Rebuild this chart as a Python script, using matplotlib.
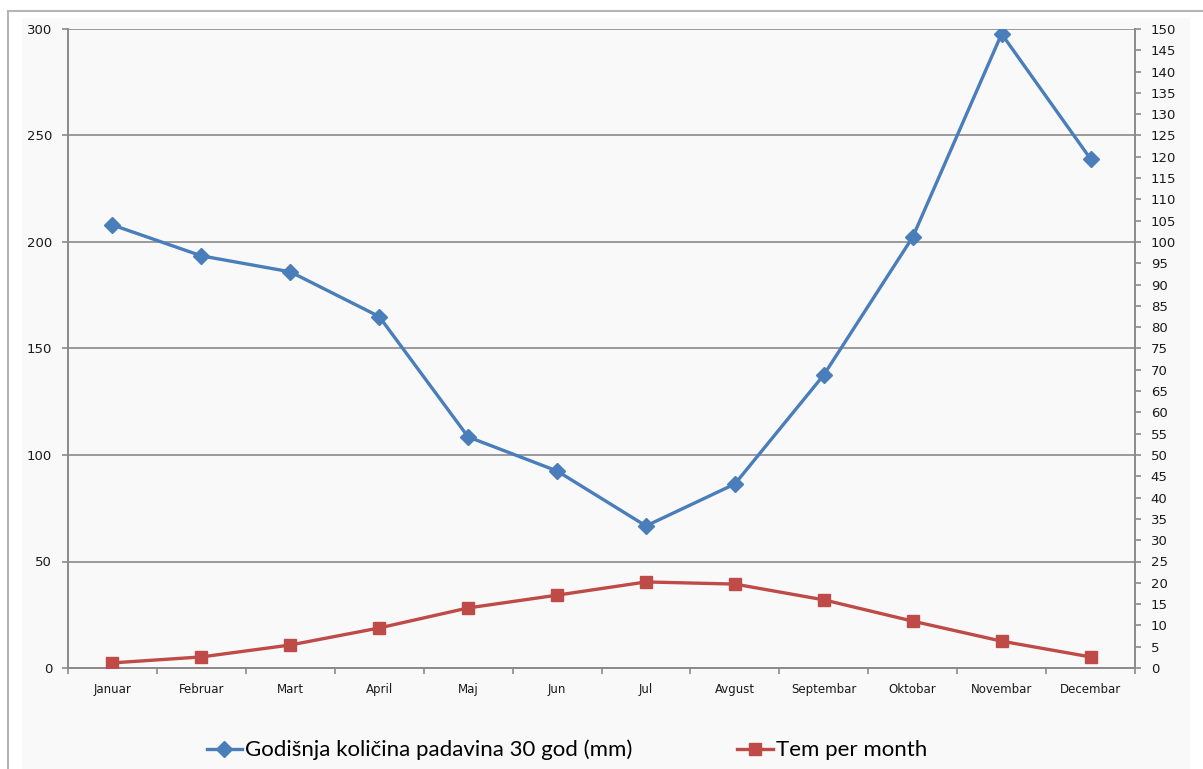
import matplotlib
matplotlib.use("Agg")

import matplotlib.pyplot as plt
from matplotlib.patches import Rectangle
import numpy as np

months = ["Januar", "Februar", "Mart", "April", "Maj", "Jun", "Jul",
          "Avgust", "Septembar", "Oktobar", "Novembar", "Decembar"]
padavine = [208.0, 193.5, 186.0, 165.0, 108.5, 92.5, 66.7, 86.4,
            137.6, 202.3, 297.7, 239.0]
temperatura = [1.2, 2.6, 5.4, 9.4, 14.1, 17.1, 20.2, 19.7, 16.0, 11.0, 6.3, 2.6]

left_ticks = np.arange(0, 301, 50)
right_ticks = np.arange(0, 151, 5)

BLUE = "#4a7ebb"
RED = "#be4b48"
GRID = "#8a8a8a"

W, H = 1203, 769
fig = plt.figure(figsize=(W / 100, H / 100), dpi=100, facecolor="white")

# outer chart frame (Excel style), kept behind the axes
fig.patches.append(Rectangle((8 / W, -0.01), 1.1, 1 - 11 / H + 0.01,
                             transform=fig.transFigure, facecolor="white",
                             edgecolor="#b4b4b4", lw=1.5, zorder=-3))
fig.patches.append(Rectangle((22 / W, -0.01), (1190 - 22) / W, 1 - 18 / H + 0.01,
                             transform=fig.transFigure, facecolor="#f9f9f9",
                             edgecolor="none", zorder=-2))

x0, x1, ytop, ybot = 68, 1135, 29, 668
ax = fig.add_axes([x0 / W, (H - ybot) / H, (x1 - x0) / W, (ybot - ytop) / H])
ax.set_facecolor("#f9f9f9")
ax2 = ax.twinx()

x = np.arange(len(months))
l1, = ax.plot(x, padavine, color=BLUE, lw=2.4, marker="D", ms=8,
              markeredgecolor=BLUE, label="Godišnja količina padavina 30 god (mm)",
              zorder=3)
l2, = ax2.plot(x, temperatura, color=RED, lw=2.4, marker="s", ms=9,
               markeredgecolor=RED, label="Tem per month", zorder=3)

ax.set_xlim(-0.5, len(months) - 0.5)
ax.set_ylim(0, 300)
ax2.set_ylim(0, 150)

ax.set_yticks(left_ticks)
ax2.set_yticks(right_ticks)
ax.yaxis.grid(True, color=GRID, lw=1.2)
ax.set_axisbelow(True)

# category boundaries as tick marks, labels in between
ax.set_xticks(np.arange(-0.5, len(months), 1.0))
ax.set_xticklabels([])
ax.set_xticks(x, minor=True)
ax.set_xticklabels(months, minor=True, fontsize=8.5, color="#1a1a1a")
ax.tick_params(axis="x", which="minor", length=0, pad=11)
ax.tick_params(axis="x", which="major", length=4.3, color=GRID, width=1.2)

ax.tick_params(axis="y", length=4.3, color=GRID, width=1.2, labelsize=9.5,
               pad=7, labelcolor="#1a1a1a")
ax2.tick_params(axis="y", length=4.3, color=GRID, width=1.2, labelsize=9.5,
                pad=7, labelcolor="#1a1a1a")

for a in (ax, ax2):
    for side, sp in a.spines.items():
        sp.set_color(GRID)
        sp.set_linewidth(1.2)
    a.spines["top"].set_visible(False)

leg = fig.legend(handles=[l1, l2], loc="center", ncol=2,
                 bbox_to_anchor=(567 / W, (H - 750) / H), frameon=False,
                 prop={"family": "Lato", "size": 16},
                 handlelength=1.6, handletextpad=0.15, columnspacing=4.7)

fig.savefig("out.png", dpi=100)
